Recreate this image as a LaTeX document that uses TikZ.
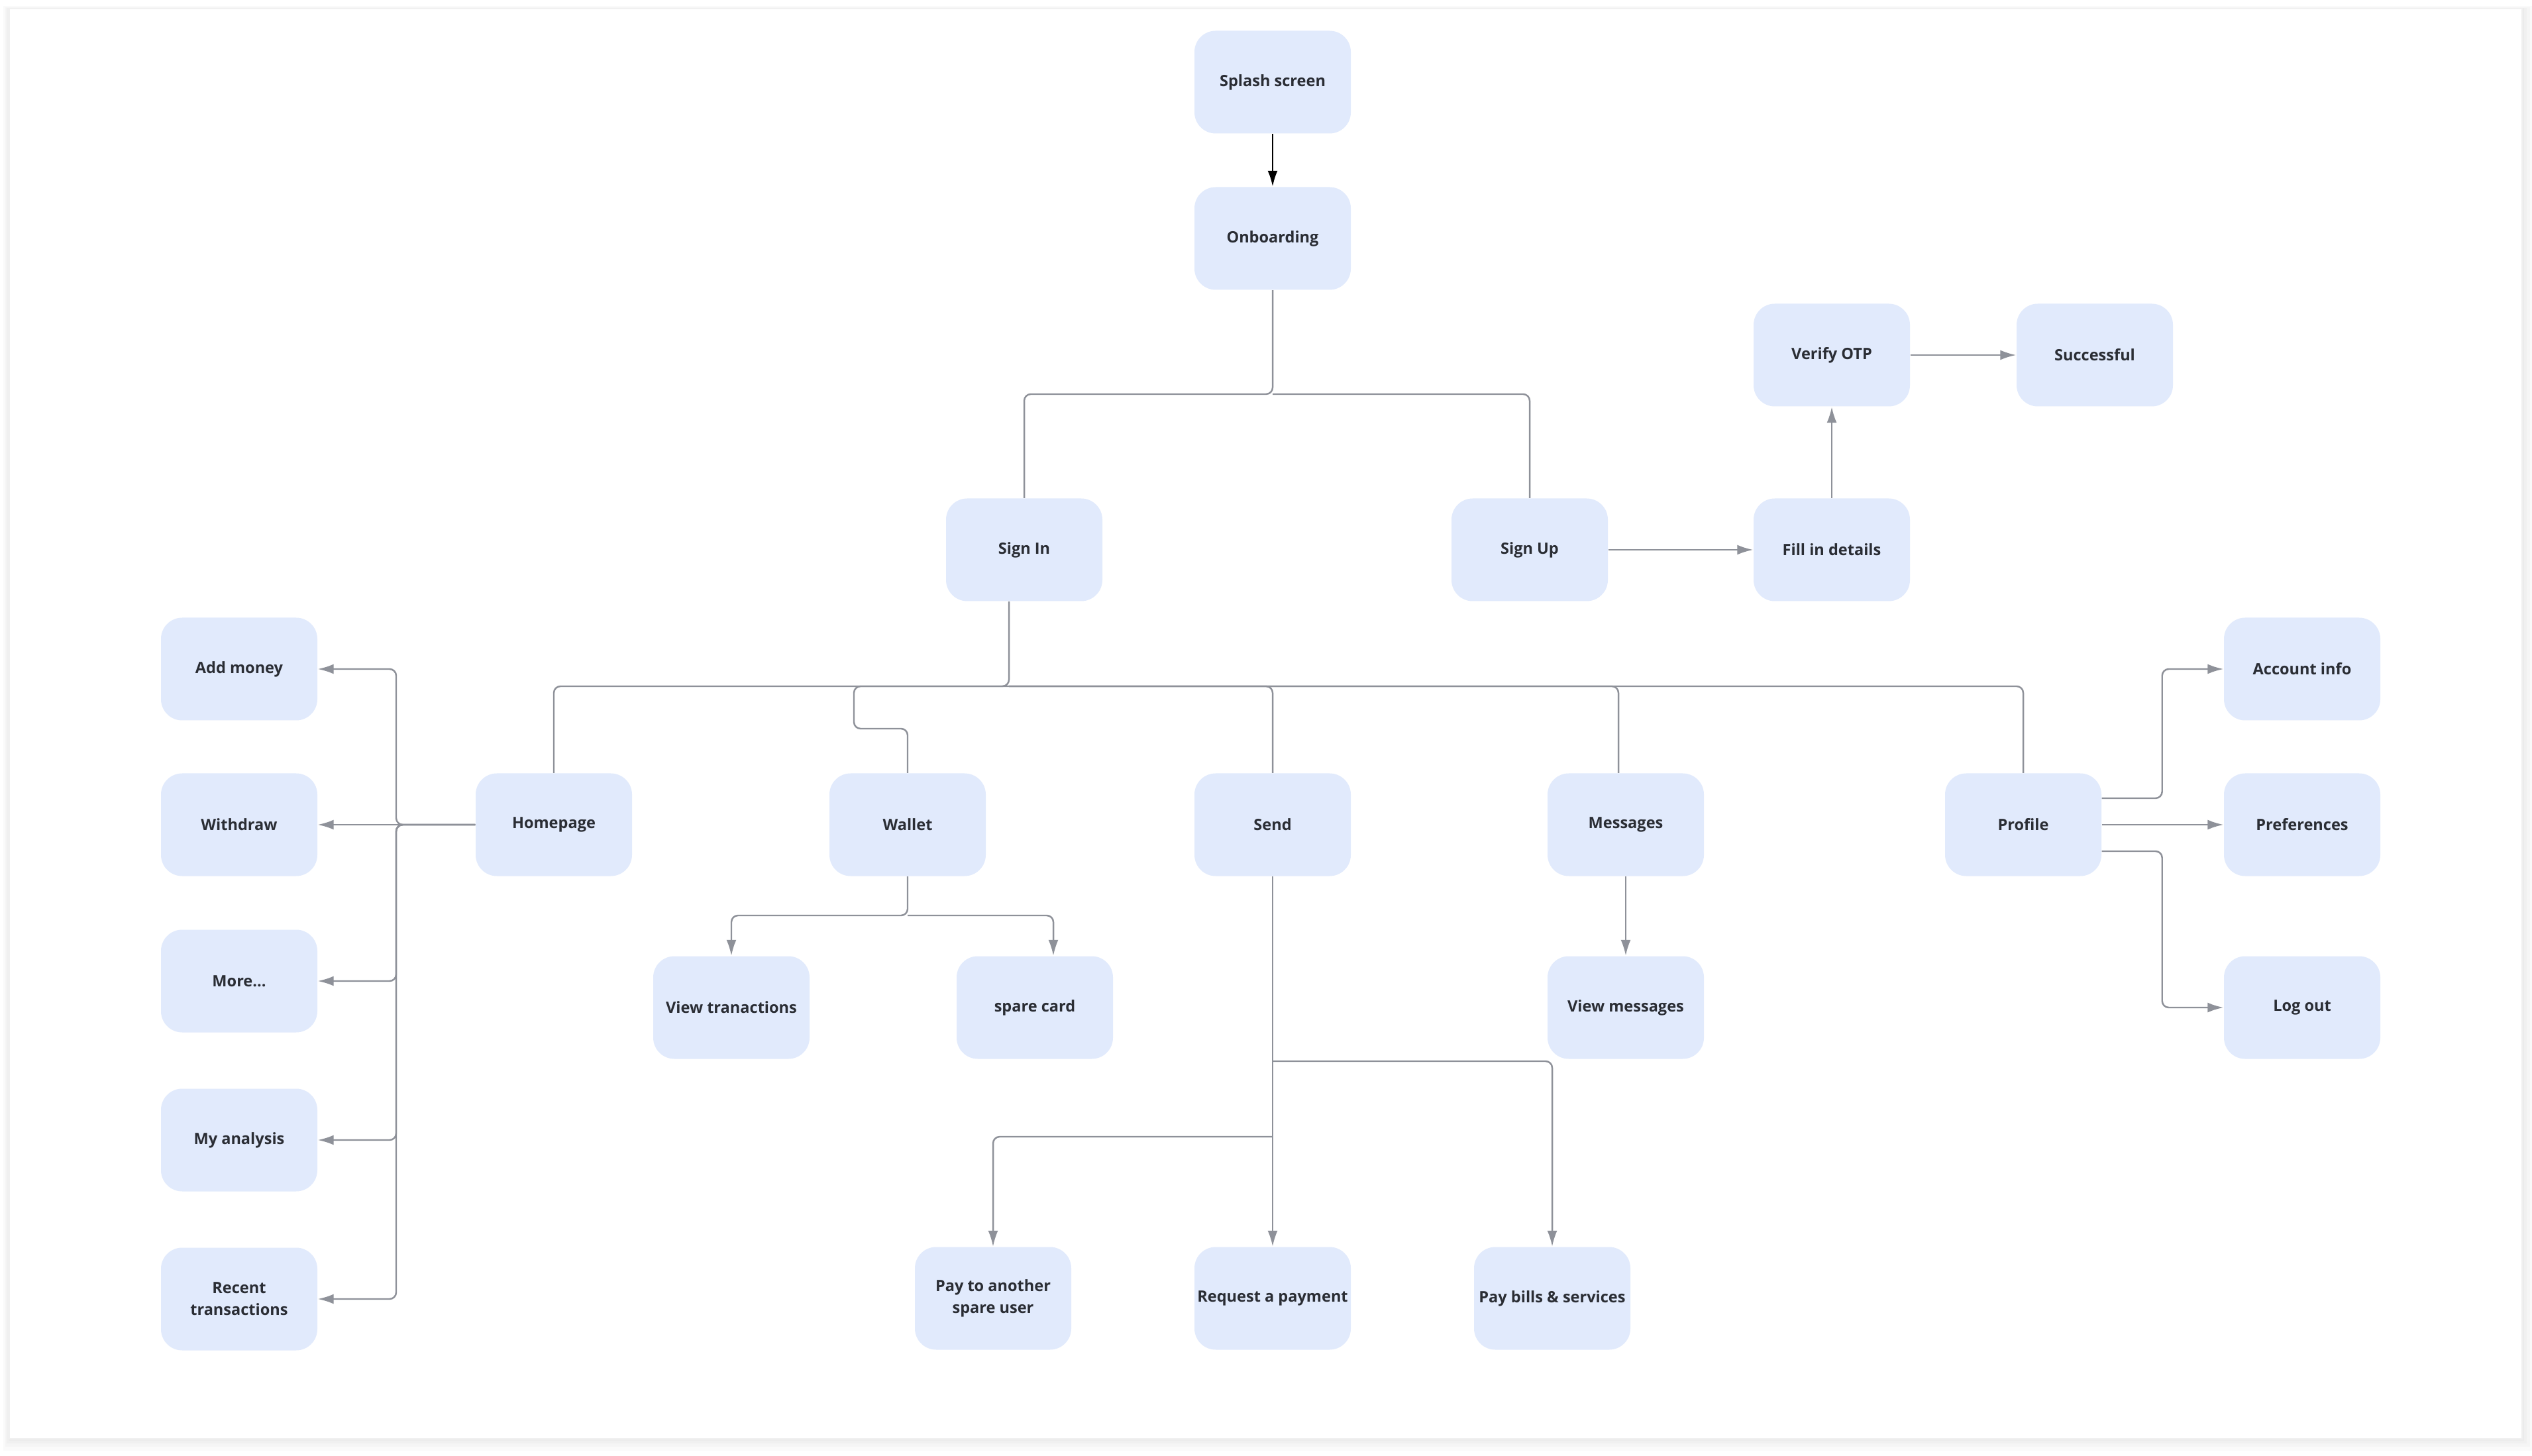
\documentclass[tikz,border=0pt]{standalone}
\usepackage{fontspec}
\setmainfont{Open Sans}
\usetikzlibrary{arrows.meta}

\definecolor{boxblue}{HTML}{E1EAFC}
\definecolor{linegray}{HTML}{8E9199}
\definecolor{textdark}{HTML}{2A2D34}

\tikzset{
  screen/.style={rectangle,rounded corners=3.2mm,fill=boxblue,minimum width=2.36cm,
    minimum height=1.55cm,inner sep=0,align=center,text=textdark,
    font=\fontsize{6.7}{9.4}\selectfont\bfseries},
  link/.style={draw=linegray,line width=0.7pt,rounded corners=1mm},
  flow/.style={link,-{Latex[length=2.4mm,width=1.5mm]}},
}

\begin{document}
\begin{tikzpicture}

  \useasboundingbox (0,0) rectangle (38.22,-21.98);
  \foreach \d in {0.03,0.07,0.12,0.18}
    \fill[black,opacity=0.02] ({0.14-\d*0.5},{-0.13+\d*0.2}) rectangle ({38.07+\d},{-21.72-\d});
  \fill[white,draw=black!6] (0.14,-0.13) rectangle (38.07,-21.72);

  \node (splash) at (19.21,-1.24) [screen]{Splash screen};
  \node (onboard) at (19.21,-3.60) [screen]{Onboarding};

  \node (signin) at (15.46,-8.30) [screen]{Sign In};
  \node (signup) at (23.09,-8.30) [screen]{Sign Up};
  \node (fill) at (27.65,-8.30) [screen]{Fill in details};
  \node (otp) at (27.65,-5.36) [screen]{Verify OTP};
  \node (success) at (31.62,-5.36) [screen]{Successful};

  \node (addmoney) at (3.61,-10.10) [screen]{Add money};
  \node (withdraw) at (3.61,-12.45) [screen]{Withdraw};
  \node (more) at (3.61,-14.81) [screen]{More...};
  \node (analysis) at (3.61,-17.21) [screen]{My analysis};
  \node (recent) at (3.61,-19.61) [screen]{Recent\\transactions};

  \node (home) at (8.36,-12.45) [screen]{Homepage};
  \node (wallet) at (13.70,-12.45) [screen]{Wallet};
  \node (send) at (19.21,-12.45) [screen]{Send};
  \node (msgs) at (24.54,-12.45) [screen]{Messages};
  \node (profile) at (30.54,-12.45) [screen]{Profile};

  \node (account) at (34.75,-10.10) [screen]{Account info};
  \node (prefs) at (34.75,-12.45) [screen]{Preferences};
  \node (logout) at (34.75,-15.21) [screen]{Log out};

  \node (viewtx) at (11.04,-15.21) [screen]{View tranactions};
  \node (card) at (15.62,-15.21) [screen]{spare card};
  \node (viewmsg) at (24.54,-15.21) [screen]{View messages};

  \node (payuser) at (14.99,-19.60) [screen]{Pay to another\\spare user};
  \node (request) at (19.21,-19.60) [screen]{Request a payment};
  \node (bills) at (23.43,-19.60) [screen]{Pay bills \& services};

  \coordinate (ojoin) at (19.21,-5.95);
  \coordinate (sjoin) at (15.23,-10.36);
  \coordinate (wbend) at (12.89,-11.00);
  \coordinate (wsplit) at (13.70,-13.82);
  \coordinate (hbus) at (5.98,-12.45);
  \coordinate (sbills) at (19.21,-16.02);
  \coordinate (spay) at (19.21,-17.16);

  \draw[line width=0.8pt,-{Latex[length=2.4mm,width=1.5mm]}] (splash) -- (onboard);

  \draw[link] (onboard.south) -- (ojoin) -| (signin.north);
  \draw[link] (ojoin) -| (signup.north);
  \draw[flow] (signup) -- (fill);
  \draw[flow] (fill) -- (otp);
  \draw[flow] (otp) -- (success);

  \draw[link] (signin.south -| sjoin) -- (sjoin) -| (home.north);
  \draw[link] (sjoin) -| (wbend) -| (wallet.north);
  \foreach \n in {send,profile}
    \draw[link] (sjoin) -| (\n.north);
  \draw[link] (sjoin) -| ([xshift=-1.1mm]msgs.north);

  \draw[flow] (home.west) -- (withdraw.east);
  \foreach \n in {addmoney,more,analysis,recent}
    \draw[flow] (home.west) -- (hbus) |- (\n.east);

  \draw[flow] (wallet.south) -- (wsplit) -| (viewtx.north);
  \draw[flow] (wsplit) -| ([xshift=2.8mm]card.north);

  \draw[flow] (msgs) -- (viewmsg);

  \draw[flow] (send.south) -- (request.north);
  \draw[flow] (sbills) -| (bills.north);
  \draw[flow] (spay) -| (payuser.north);

  \draw[flow] ([yshift=4mm]profile.east) -- ++(0.91,0) |- (account.west);
  \draw[flow] (profile.east) -- (prefs.west);
  \draw[flow] ([yshift=-4mm]profile.east) -- ++(0.91,0) |- (logout.west);

\end{tikzpicture}
\end{document}
